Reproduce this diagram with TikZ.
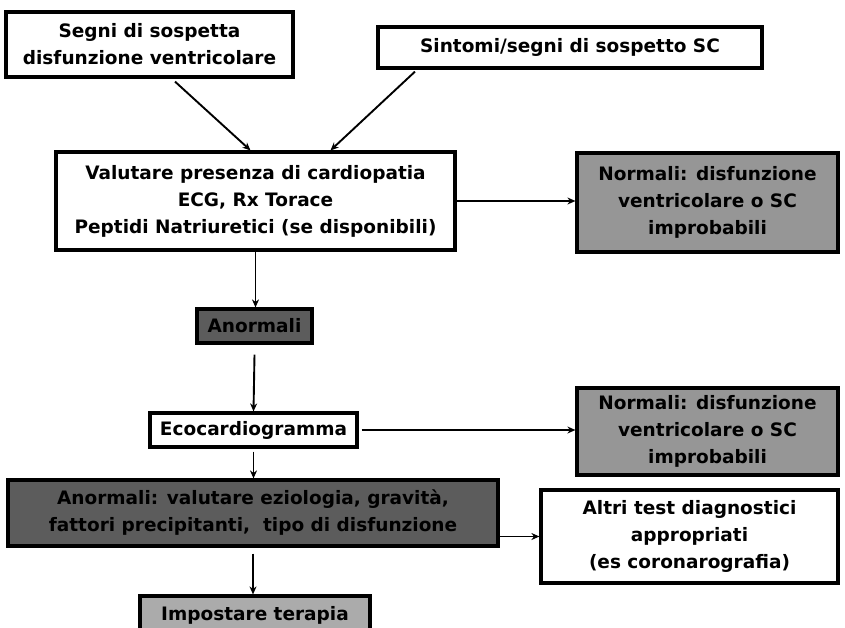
\documentclass[tikz,border=0pt]{standalone}
\usepackage{fontspec}
\setmainfont{DejaVu Sans}
\usetikzlibrary{arrows.meta,calc}
\definecolor{midgray}{HTML}{969696}
\definecolor{darkgray}{HTML}{5C5C5C}
\definecolor{lightgray}{HTML}{ABABAB}
\tikzset{
  box/.style={draw=black, line width=3.2pt, fill=white, align=center,
    inner sep=0pt, font=\bfseries\fontsize{18.5}{27}\selectfont},
  normbox/.style={box, fill=midgray},
  darkbox/.style={box, fill=darkgray},
  lightbox/.style={box, fill=lightgray},
  arr/.style={-{Stealth[length=8pt,width=7pt]}, line width=1.9pt}
}
\begin{document}
\begin{tikzpicture}[x=1pt,y=-1pt]
\useasboundingbox (0,0) rectangle (845,628);
\node[box, minimum width=287pt, minimum height=65pt] (b1) at (149.5,44.5)
  {Segni di sospetta\\disfunzione ventricolare};
\node[box, minimum width=384pt, minimum height=41pt] (b2) at (570,47.5)
  {Sintomi/segni di sospetto SC};
\node[box, minimum width=399pt, minimum height=98pt] (b3) at (255.5,201)
  {Valutare presenza di cardiopatia\\ECG, Rx Torace\\Peptidi Natriuretici (se disponibili)};
\node[normbox, minimum width=261pt, minimum height=99pt] (n1) at (707.5,202.5)
  {Normali: disfunzione\\ventricolare o SC\\improbabili};
\node[darkbox, minimum width=115pt, minimum height=34pt] (an) at (254.5,326)
  {Anormali};
\node[box, minimum width=207pt, minimum height=34pt] (eco) at (253.5,430)
  {Ecocardiogramma};
\node[normbox, minimum width=261pt, minimum height=87pt] (n2) at (707.5,431.5)
  {Normali: disfunzione\\ventricolare o SC\\improbabili};
\node[darkbox, minimum width=490pt, minimum height=66pt] (ab) at (253,513)
  {Anormali: valutare eziologia, gravità,\\fattori precipitanti,\ \ tipo di disfunzione};
\node[box, minimum width=297pt, minimum height=93pt] (al) at (689.5,536.5)
  {Altri test diagnostici\\appropriati\\(es coronarografia)};
\node[lightbox, minimum width=230pt, minimum height=38pt] (im) at (255,615)
  {Impostare terapia};

\draw[arr] ([xshift=25.5pt,yshift=-3pt]b1.south) -- ([xshift=-5pt]b3.north);
\draw[arr] ([xshift=-155pt,yshift=-2pt]b2.south) -- ([xshift=75pt]b3.north);
\draw[arr] (b3.east) -- (b3.east -| n1.west);
\draw[arr] (b3.south) -- (b3.south |- an.north);
\draw[arr] ([yshift=-10pt]an.south) -- (eco.north);
\draw[arr] ([xshift=3pt]eco.east) -- (eco.east -| n2.west);
\draw[arr] ([yshift=-3pt]eco.south) -- (eco.south |- ab.north);
\draw[arr] (ab.east |- al.west) -- (al.west);
\draw[arr] ([yshift=-6pt]ab.south) -- (ab.south |- im.north);
\end{tikzpicture}
\end{document}
